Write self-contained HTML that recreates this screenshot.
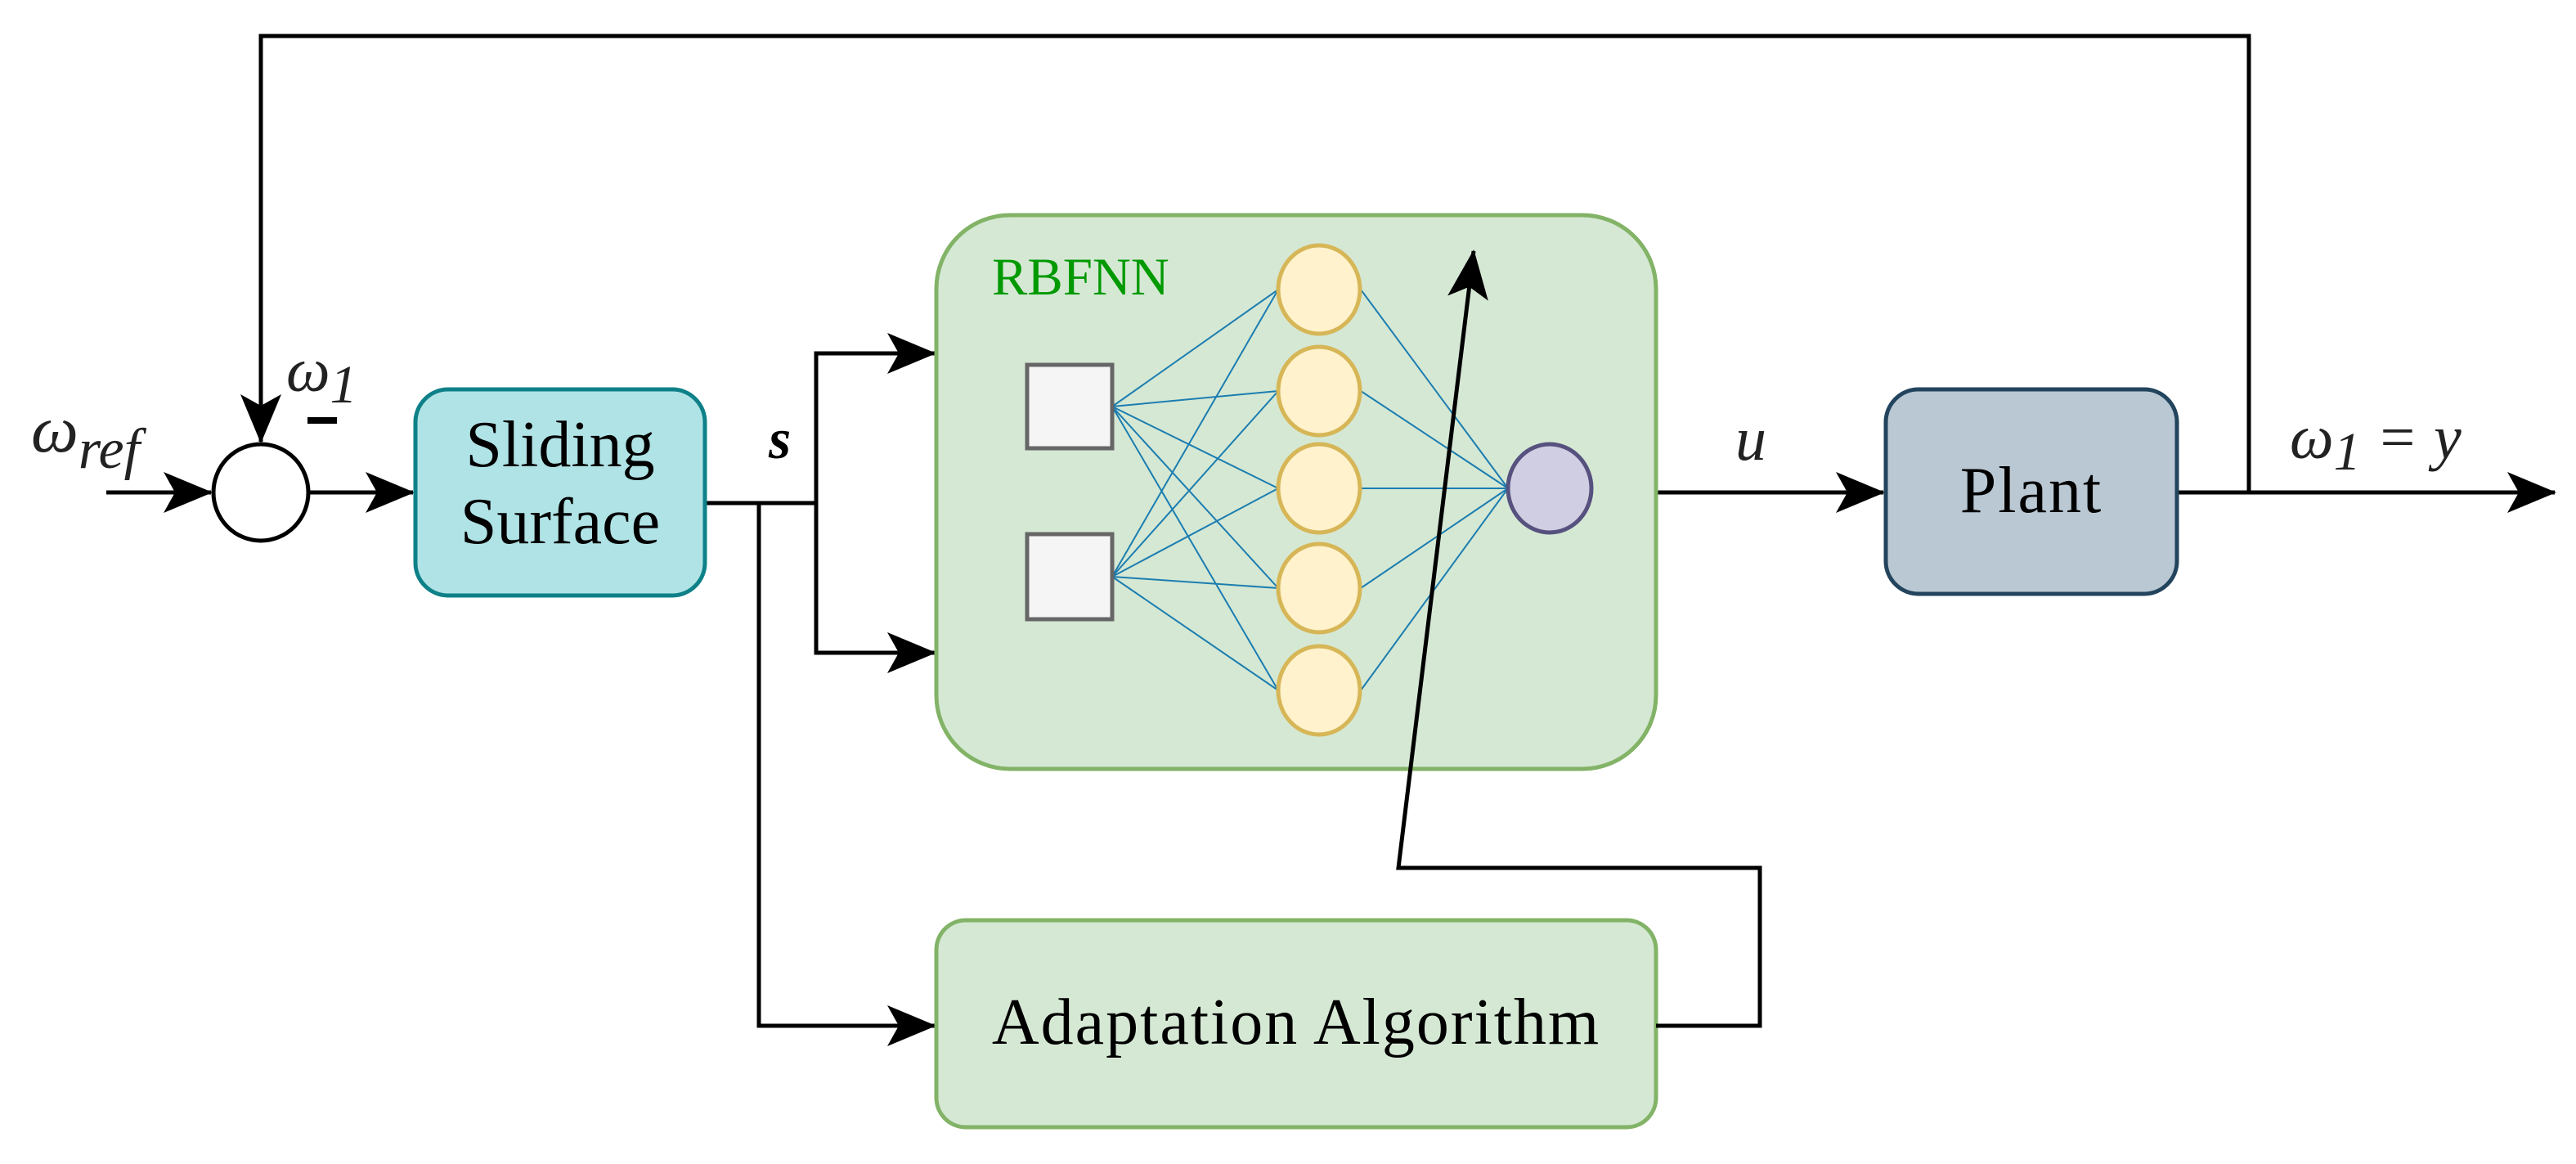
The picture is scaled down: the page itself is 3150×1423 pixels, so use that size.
<!DOCTYPE html>
<html><head><meta charset="utf-8"><style>
html,body{margin:0;padding:0;background:#fff;}
svg{display:block;}
text{font-family:"Liberation Serif",serif;}
</style></head><body>
<svg width="3150" height="1423" viewBox="0 0 3150 1423" xmlns="http://www.w3.org/2000/svg">
<defs>
<marker id="a" viewBox="0 0 60 50" refX="58" refY="25" markerWidth="60" markerHeight="50" markerUnits="userSpaceOnUse" orient="auto">
<path d="M0,0 L60,25 L0,50 L14,25 Z" fill="#000"/>
</marker>
</defs>
<g fill="none" stroke="#000" stroke-width="5">
<polyline points="2750,602 2750,44 319,44 319,540" marker-end="url(#a)"/>
<line x1="130" y1="602" x2="258" y2="602" marker-end="url(#a)"/>
<line x1="379" y1="602" x2="505" y2="602" marker-end="url(#a)"/>
<line x1="862" y1="615" x2="998" y2="615"/>
<polyline points="998,615 998,432 1143,432" marker-end="url(#a)"/>
<polyline points="998,615 998,798 1143,798" marker-end="url(#a)"/>
<polyline points="928,615 928,1254 1143,1254" marker-end="url(#a)"/>
<line x1="2025" y1="602" x2="2303" y2="602" marker-end="url(#a)"/>
<line x1="2662" y1="602" x2="3124" y2="602" marker-end="url(#a)"/>
</g>
<ellipse cx="319" cy="602" rx="58" ry="59" fill="#fff" stroke="#000" stroke-width="5"/>
<rect x="508" y="476" width="354" height="252" rx="40" fill="#b0e3e6" stroke="#0e8088" stroke-width="5"/>
<text x="685" y="570" font-size="80" text-anchor="middle">Sliding</text>
<text x="685" y="664" font-size="80" text-anchor="middle">Surface</text>
<rect x="1145" y="263" width="880" height="677" rx="90" fill="#d5e8d4" stroke="#82b366" stroke-width="5"/>
<text x="1213" y="360" font-size="65" fill="#009900">RBFNN</text>
<g stroke="#1b7db0" stroke-width="2" fill="none">
<path d="M1360,497 L1563,354 M1360,497 L1563,478 M1360,497 L1563,597 M1360,497 L1563,719 M1360,497 L1563,844
M1360,705 L1563,354 M1360,705 L1563,478 M1360,705 L1563,597 M1360,705 L1563,719 M1360,705 L1563,844
M1664,354 L1844,597 M1664,478 L1844,597 M1664,597 L1844,597 M1664,719 L1844,597 M1664,844 L1844,597"/>
</g>
<rect x="1256" y="446" width="104" height="102" fill="#f5f5f5" stroke="#666" stroke-width="5"/>
<rect x="1256" y="653" width="104" height="104" fill="#f5f5f5" stroke="#666" stroke-width="5"/>
<g fill="#fff2cc" stroke="#d6b656" stroke-width="5">
<ellipse cx="1613" cy="354" rx="50" ry="54"/>
<ellipse cx="1613" cy="478" rx="50" ry="54"/>
<ellipse cx="1613" cy="597" rx="50" ry="54"/>
<ellipse cx="1613" cy="719" rx="50" ry="54"/>
<ellipse cx="1613" cy="844" rx="50" ry="54"/>
</g>
<ellipse cx="1895" cy="597" rx="51" ry="54" fill="#d0cee2" stroke="#56517e" stroke-width="5"/>
<rect x="1145" y="1125" width="880" height="253" rx="36" fill="#d5e8d4" stroke="#82b366" stroke-width="5"/>
<text x="1585" y="1276" font-size="80" letter-spacing="2" text-anchor="middle">Adaptation Algorithm</text>
<g fill="none" stroke="#000" stroke-width="5">
<polyline points="2025,1254 2152,1254 2152,1061 1710,1061 1802,307" marker-end="url(#a)"/>
</g>
<rect x="2306" y="476" width="356" height="250" rx="40" fill="#bac8d3" stroke="#23445d" stroke-width="5"/>
<text x="2484" y="626" font-size="80" letter-spacing="2" text-anchor="middle">Plant</text>
<g font-style="italic" fill="#222">
<text x="38" y="552" font-size="82">ω<tspan font-size="70" dy="20">ref</tspan></text>
<text x="350" y="478" font-size="76">ω<tspan font-size="66" dy="14">1</tspan></text>
<text x="2122" y="562" font-size="76">u</text>
<text x="2800" y="560" font-size="76">ω<tspan font-size="66" dy="14">1</tspan><tspan dy="-14"> = y</tspan></text>
</g>
<text x="940" y="560" font-size="70" font-weight="bold" font-style="italic">s</text>
<rect x="376" y="510" width="36" height="8" fill="#000"/>
</svg>
</body></html>
